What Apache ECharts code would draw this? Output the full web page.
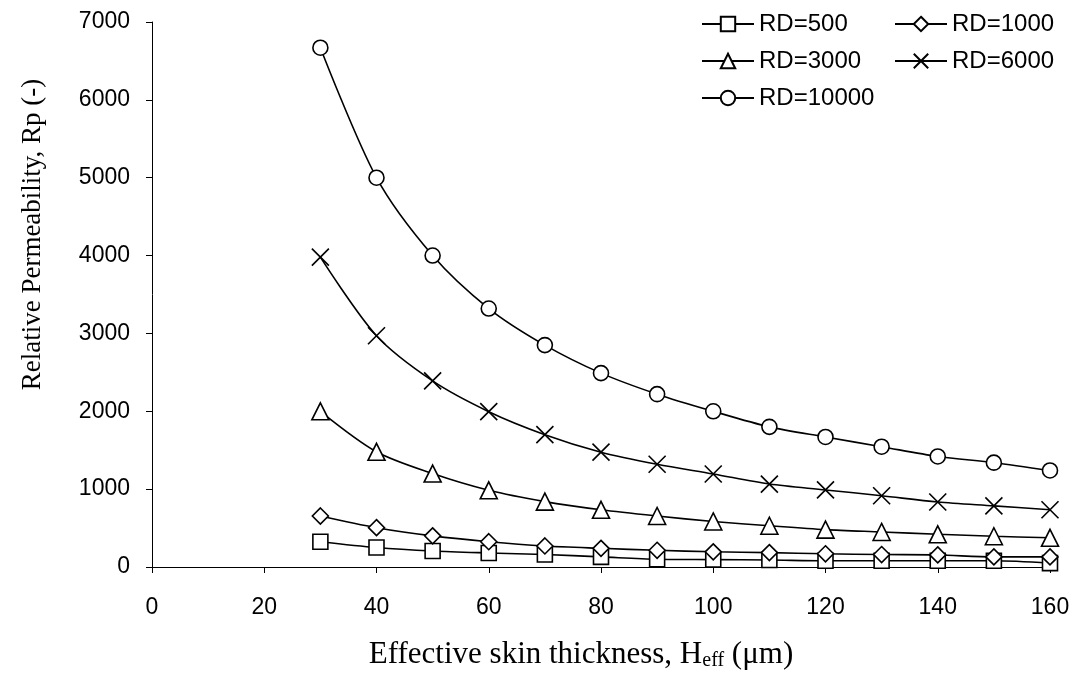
<!DOCTYPE html>
<html>
<head>
<meta charset="utf-8">
<script src="https://cdn.jsdelivr.net/npm/echarts@6/dist/echarts.min.js"></script>
<style>
  html, body { margin: 0; padding: 0; background: #fff; }
  #chart { width: 1080px; height: 680px; }
</style>
</head>
<body>
<div id="chart"></div>
<script>
  // effective skin thickness (um)
  var thickness = [30, 40, 50, 60, 70, 80, 90, 100, 110, 120, 130, 140, 150, 160];

  // relative permeability
  var rd500   = [325, 250, 205, 180, 160, 130, 100, 95, 90, 80, 80, 80, 80, 50];
  var rd1000  = [655, 505, 400, 325, 270, 240, 215, 195, 185, 170, 160, 155, 130, 130];
  var rd3000  = [2000, 1480, 1200, 985, 840, 735, 655, 585, 530, 480, 450, 420, 395, 375];
  var rd6000  = [3980, 2970, 2390, 1995, 1700, 1475, 1320, 1195, 1065, 990, 915, 835, 785, 735];
  var rd10000 = [6670, 5000, 4000, 3320, 2850, 2490, 2220, 2000, 1800, 1670, 1545, 1420, 1340, 1240];

  var seriesNames = ['RD=500', 'RD=1000', 'RD=3000', 'RD=6000', 'RD=10000'];
  var seriesData = [rd500, rd1000, rd3000, rd6000, rd10000];
  var symbols = ['rect', 'diamond', 'triangle', 'path://M0,0L10,10M10,0L0,10', 'circle'];
  var symbolSizes = [15, 16, 17, 17, 15];

  function pairs(ys) {
    return thickness.map(function (x, i) { return [x, ys[i]]; });
  }

  var chart = echarts.init(document.getElementById('chart'));

  var series = seriesNames.map(function (name, i) {
    return {
      name: name,
      type: 'line',
      smooth: 0.3,
      data: pairs(seriesData[i]),
      symbol: symbols[i],
      symbolSize: symbolSizes[i],
      showAllSymbol: true,
      lineStyle: { color: '#000', width: 1.6 },
      itemStyle: { color: '#fff', borderColor: '#000', borderWidth: 1.6 },
      emphasis: { disabled: true },
      z: 2 + i
    };
  });

  var arial = 'Arial, "Liberation Sans", sans-serif';
  var times = '"Liberation Serif", "Times New Roman", serif';
  var legendText = { fontFamily: arial, fontSize: 24, color: '#000' };

  chart.setOption({
    animation: false,
    backgroundColor: '#fff',
    grid: { left: 152, right: 30, top: 22, bottom: 113 },
    legend: [
      {
        data: ['RD=500', 'RD=3000', 'RD=10000'],
        orient: 'vertical',
        left: 701, top: 12, padding: 0,
        itemWidth: 52, itemHeight: 18, itemGap: 13,
        textStyle: legendText
      },
      {
        data: ['RD=1000', 'RD=6000'],
        orient: 'vertical',
        left: 894, top: 12, padding: 0,
        itemWidth: 52, itemHeight: 18, itemGap: 13,
        textStyle: legendText
      }
    ],
    xAxis: {
      type: 'value',
      min: 0, max: 160, interval: 20,
      name: 'Effective skin thickness, H{sub|eff} (\u03bcm)',
      nameLocation: 'middle',
      nameGap: 72,
      nameTextStyle: {
        fontFamily: times, fontSize: 31, color: '#000',
        padding: [0, 40, 0, 0],
        rich: {
          sub: {
            fontFamily: times, fontSize: 20, color: '#000',
            verticalAlign: 'bottom',
            padding: [12, 0, 0, 0]
          }
        }
      },
      axisLine: { lineStyle: { color: '#000', width: 1 } },
      axisTick: { inside: false, length: 6, lineStyle: { color: '#000' } },
      axisLabel: { margin: 29, fontFamily: arial, fontSize: 23, color: '#000' },
      splitLine: { show: false }
    },
    yAxis: {
      type: 'value',
      min: 0, max: 7000, interval: 1000,
      name: 'Relative Permeability, Rp (-)',
      nameLocation: 'middle',
      nameGap: 106,
      nameTextStyle: {
        fontFamily: times, fontSize: 27, color: '#000',
        padding: [0, 0, 0, 120]
      },
      axisLine: { show: true, lineStyle: { color: '#000', width: 1 } },
      axisTick: { show: true, inside: false, length: 6, lineStyle: { color: '#000' } },
      axisLabel: {
        margin: 22, fontFamily: arial, fontSize: 23, color: '#000',
        formatter: function (v) { return String(v); }
      },
      splitLine: { show: false }
    },
    series: series
  });
</script>
</body>
</html>
